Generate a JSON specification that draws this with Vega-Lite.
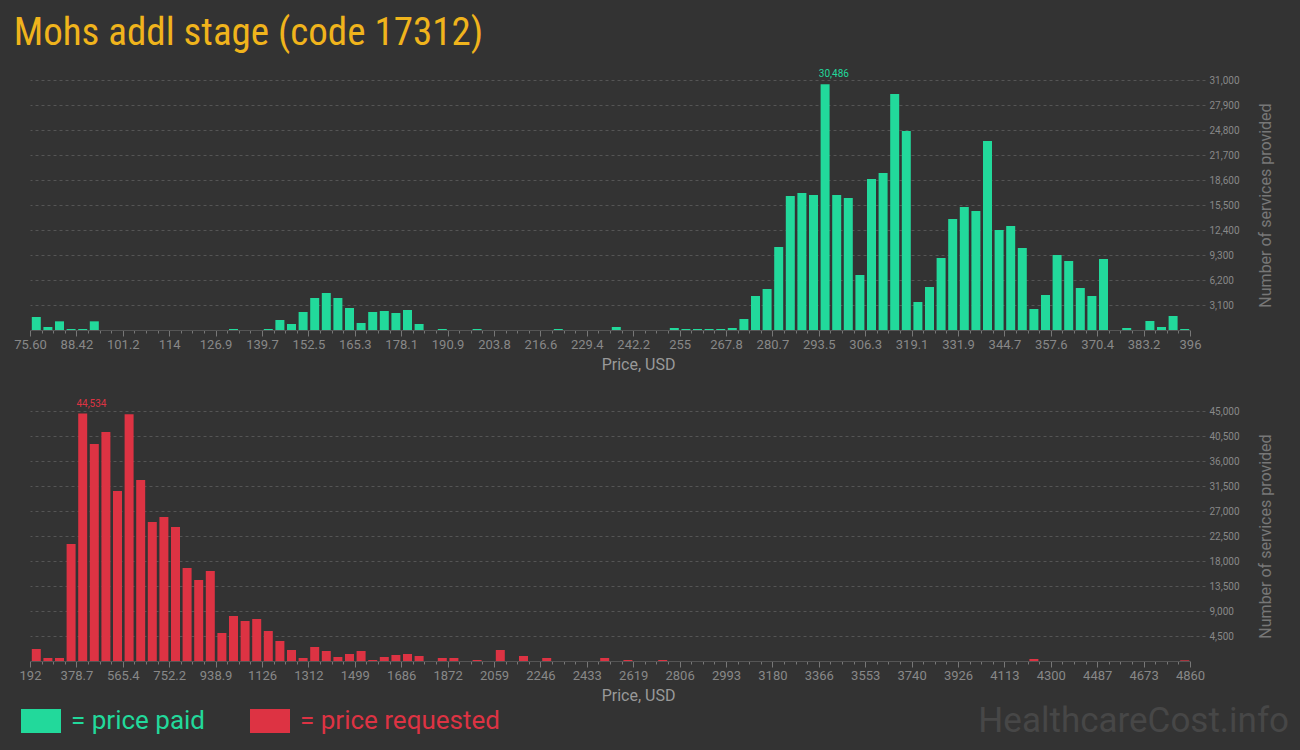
{
  "$schema": "https://vega.github.io/schema/vega-lite/v6.json",
  "background": "#333333",
  "padding": {"left": 13, "top": 14, "right": 28, "bottom": 20},
  "title": {
    "text": "Mohs addl stage (code 17312)",
    "anchor": "start",
    "frame": "bounds",
    "color": "#f0b41c",
    "fontSize": 39,
    "font": "Roboto Condensed, Roboto, sans-serif",
    "fontWeight": "normal",
    "offset": 16
  },
  "config": {
    "view": {"stroke": null},
    "font": "Roboto, sans-serif",
    "axisY": {
      "orient": "right",
      "format": ",d",
      "grid": true,
      "gridDash": [3, 3],
      "gridColor": "#555555",
      "tickDash": [3, 3],
      "tickColor": "#555555",
      "tickSize": 16,
      "tickCount": 40,
      "domain": false,
      "labelColor": "#888888",
      "labelFontSize": 10,
      "labelFont": "Roboto, sans-serif",
      "labelPadding": 3,
      "labelOverlap": false,
      "labelBound": false,
      "titleColor": "#777777",
      "titleFontSize": 16,
      "titleFontWeight": "normal",
      "titleFont": "Roboto, sans-serif",
      "titleAngle": 270,
      "titleBaseline": "top",
      "titlePadding": 18
    },
    "axisX": {
      "grid": false,
      "tickColor": "#777777",
      "domainColor": "#555555",
      "tickCount": 300,
      "labelColor": "#888888",
      "labelFontSize": 13,
      "labelFont": "Roboto, sans-serif",
      "labelPadding": 2,
      "labelOverlap": false,
      "labelFlush": false,
      "titleColor": "#999999",
      "titleFontSize": 16,
      "titleFontWeight": "normal",
      "titleFont": "Roboto, sans-serif",
      "titlePadding": 5,
      "titleX": 608
    },
    "legend": {
      "orient": "none",
      "legendX": -9,
      "legendY": 621,
      "direction": "horizontal",
      "title": null,
      "symbolType": "M-1,-0.6L1,-0.6L1,0.6L-1,0.6Z",
      "symbolSize": 1600,
      "symbolOpacity": 1,
      "symbolStrokeWidth": 0,
      "labelFontSize": 26,
      "labelFont": "Roboto, sans-serif",
      "labelOffset": 10,
      "columnPadding": 44,
      "labelLimit": 400
    }
  },
  "datasets": {
    "paid": [
      {"price": 75.6, "count": 1612},
      {"price": 78.804, "count": 372},
      {"price": 82.008, "count": 1075},
      {"price": 85.212, "count": 124},
      {"price": 88.416, "count": 124},
      {"price": 91.62, "count": 1075},
      {"price": 130.068, "count": 124},
      {"price": 139.68, "count": 124},
      {"price": 142.884, "count": 1240},
      {"price": 146.088, "count": 744},
      {"price": 149.292, "count": 2232},
      {"price": 152.496, "count": 3968},
      {"price": 155.7, "count": 4588},
      {"price": 158.904, "count": 3968},
      {"price": 162.108, "count": 2728},
      {"price": 165.312, "count": 868},
      {"price": 168.516, "count": 2232},
      {"price": 171.72, "count": 2356},
      {"price": 174.924, "count": 2108},
      {"price": 178.128, "count": 2480},
      {"price": 181.332, "count": 744},
      {"price": 187.74, "count": 124},
      {"price": 197.352, "count": 124},
      {"price": 219.78, "count": 124},
      {"price": 235.8, "count": 372},
      {"price": 251.82, "count": 248},
      {"price": 255.024, "count": 124},
      {"price": 258.228, "count": 124},
      {"price": 261.432, "count": 124},
      {"price": 264.636, "count": 124},
      {"price": 267.84, "count": 248},
      {"price": 271.044, "count": 1364},
      {"price": 274.248, "count": 4216},
      {"price": 277.452, "count": 5084},
      {"price": 280.656, "count": 10291},
      {"price": 283.86, "count": 16615},
      {"price": 287.064, "count": 16987},
      {"price": 290.268, "count": 16739},
      {"price": 293.472, "count": 30486},
      {"price": 296.676, "count": 16739},
      {"price": 299.88, "count": 16367},
      {"price": 303.084, "count": 6819},
      {"price": 306.288, "count": 18723},
      {"price": 309.492, "count": 19467},
      {"price": 312.696, "count": 29262},
      {"price": 315.9, "count": 24674},
      {"price": 319.104, "count": 3472},
      {"price": 322.308, "count": 5332},
      {"price": 325.512, "count": 8927},
      {"price": 328.716, "count": 13763},
      {"price": 331.92, "count": 15251},
      {"price": 335.124, "count": 14755},
      {"price": 338.328, "count": 23434},
      {"price": 341.532, "count": 12399},
      {"price": 344.736, "count": 12895},
      {"price": 347.94, "count": 10167},
      {"price": 351.144, "count": 2604},
      {"price": 354.348, "count": 4340},
      {"price": 357.552, "count": 9299},
      {"price": 360.756, "count": 8555},
      {"price": 363.96, "count": 5208},
      {"price": 367.164, "count": 4216},
      {"price": 370.368, "count": 8803},
      {"price": 376.776, "count": 248},
      {"price": 383.184, "count": 1116},
      {"price": 386.388, "count": 372},
      {"price": 389.592, "count": 1736},
      {"price": 392.796, "count": 124}
    ],
    "requested": [
      {"price": 192, "count": 2160},
      {"price": 238.68, "count": 540},
      {"price": 285.36, "count": 540},
      {"price": 332.04, "count": 21060},
      {"price": 378.72, "count": 44534},
      {"price": 425.4, "count": 39060},
      {"price": 472.08, "count": 41220},
      {"price": 518.76, "count": 30600},
      {"price": 565.44, "count": 44400},
      {"price": 612.12, "count": 32580},
      {"price": 658.8, "count": 25020},
      {"price": 705.48, "count": 25920},
      {"price": 752.16, "count": 24120},
      {"price": 798.84, "count": 16740},
      {"price": 845.52, "count": 14580},
      {"price": 892.2, "count": 16200},
      {"price": 938.88, "count": 5040},
      {"price": 985.56, "count": 8100},
      {"price": 1032.24, "count": 7200},
      {"price": 1078.92, "count": 7560},
      {"price": 1125.6, "count": 5400},
      {"price": 1172.28, "count": 3600},
      {"price": 1218.96, "count": 1980},
      {"price": 1265.64, "count": 540},
      {"price": 1312.32, "count": 2520},
      {"price": 1359, "count": 1800},
      {"price": 1405.68, "count": 720},
      {"price": 1452.36, "count": 1260},
      {"price": 1499.04, "count": 1800},
      {"price": 1545.72, "count": 180},
      {"price": 1592.4, "count": 720},
      {"price": 1639.08, "count": 1080},
      {"price": 1685.76, "count": 1260},
      {"price": 1732.44, "count": 900},
      {"price": 1825.8, "count": 540},
      {"price": 1872.48, "count": 540},
      {"price": 1965.84, "count": 180},
      {"price": 2059.2, "count": 1980},
      {"price": 2152.56, "count": 900},
      {"price": 2245.92, "count": 540},
      {"price": 2479.32, "count": 540},
      {"price": 2572.68, "count": 180},
      {"price": 2712.72, "count": 180},
      {"price": 4206.48, "count": 360},
      {"price": 4813.32, "count": 120}
    ]
  },
  "spacing": 26,
  "vconcat": [
    {
      "width": 1160,
      "height": 250,
      "data": {"name": "paid"},
      "layer": [
        {
          "mark": {"type": "bar", "binSpacing": 2.6},
          "encoding": {
            "x": {
              "field": "price",
              "type": "quantitative",
              "bin": {"binned": true, "step": 3.204},
              "scale": {"domain": [75.6, 396], "nice": false, "zero": false},
              "axis": {
                "title": "Price, USD",
                "tickCount": 300,
                "values": [75.6, 78.804, 82.008, 85.212, 88.416, 91.62, 94.824, 98.028, 101.232, 104.436, 107.64, 110.844, 114.048, 117.252, 120.456, 123.66, 126.864, 130.068, 133.272, 136.476, 139.68, 142.884, 146.088, 149.292, 152.496, 155.7, 158.904, 162.108, 165.312, 168.516, 171.72, 174.924, 178.128, 181.332, 184.536, 187.74, 190.944, 194.148, 197.352, 200.556, 203.76, 206.964, 210.168, 213.372, 216.576, 219.78, 222.984, 226.188, 229.392, 232.596, 235.8, 239.004, 242.208, 245.412, 248.616, 251.82, 255.024, 258.228, 261.432, 264.636, 267.84, 271.044, 274.248, 277.452, 280.656, 283.86, 287.064, 290.268, 293.472, 296.676, 299.88, 303.084, 306.288, 309.492, 312.696, 315.9, 319.104, 322.308, 325.512, 328.716, 331.92, 335.124, 338.328, 341.532, 344.736, 347.94, 351.144, 354.348, 357.552, 360.756, 363.96, 367.164, 370.368, 373.572, 376.776, 379.98, 383.184, 386.388, 389.592, 392.796, 396],
                "labelExpr": "round(datum.index * 100) % 4 == 0 ? (datum.value == 75.6 ? '75.60' : format(datum.value, '.4~r')) : ''",
                "tickSize": {"condition": {"test": "round(datum.index * 100) % 4 == 0", "value": 6}, "value": 3}
              }
            },
            "y": {
              "field": "count",
              "type": "quantitative",
              "scale": {"domain": [0, 31000], "nice": false},
              "axis": {
                "title": "Number of services provided",
                "labelOverlap": false,
                "tickCount": 40,
                "values": [3100, 6200, 9300, 12400, 15500, 18600, 21700, 24800, 27900, 31000]
              }
            },
            "color": {
              "datum": "price paid",
              "type": "nominal",
              "scale": {"domain": ["price paid", "price requested"], "range": ["#22d99b", "#dd3343"]},
              "legend": {
                "labelExpr": "'= ' + datum.label",
                "encode": {"labels": {"update": {"fill": {"signal": "datum.value == 'price paid' ? '#22d99b' : '#dd3343'"}}}}
              }
            }
          }
        },
        {
          "transform": [
            {"joinaggregate": [{"op": "max", "field": "count", "as": "mx"}]},
            {"filter": "datum.count == datum.mx"}
          ],
          "mark": {"type": "text", "align": "left", "baseline": "bottom", "dy": -5, "fontSize": 10, "color": "#22d99b"},
          "encoding": {
            "x": {"field": "price", "type": "quantitative"},
            "y": {"field": "count", "type": "quantitative"},
            "text": {"field": "count", "type": "quantitative", "format": ",d"}
          }
        }
      ]
    },
    {
      "width": 1160,
      "height": 250,
      "data": {"name": "requested"},
      "title": {
        "text": "HealthcareCost.info",
        "orient": "bottom",
        "anchor": "end",
        "frame": "bounds",
        "fontSize": 35,
        "fontWeight": "normal",
        "color": "#474747",
        "font": "Roboto, sans-serif",
        "offset": 1,
        "dx": 16
      },
      "layer": [
        {
          "mark": {"type": "bar", "binSpacing": 2.6},
          "encoding": {
            "x": {
              "field": "price",
              "type": "quantitative",
              "bin": {"binned": true, "step": 46.68},
              "scale": {"domain": [192, 4860], "nice": false, "zero": false},
              "axis": {
                "title": "Price, USD",
                "tickCount": 300,
                "values": [192, 238.68, 285.36, 332.04, 378.72, 425.4, 472.08, 518.76, 565.44, 612.12, 658.8, 705.48, 752.16, 798.84, 845.52, 892.2, 938.88, 985.56, 1032.24, 1078.92, 1125.6, 1172.28, 1218.96, 1265.64, 1312.32, 1359, 1405.68, 1452.36, 1499.04, 1545.72, 1592.4, 1639.08, 1685.76, 1732.44, 1779.12, 1825.8, 1872.48, 1919.16, 1965.84, 2012.52, 2059.2, 2105.88, 2152.56, 2199.24, 2245.92, 2292.6, 2339.28, 2385.96, 2432.64, 2479.32, 2526, 2572.68, 2619.36, 2666.04, 2712.72, 2759.4, 2806.08, 2852.76, 2899.44, 2946.12, 2992.8, 3039.48, 3086.16, 3132.84, 3179.52, 3226.2, 3272.88, 3319.56, 3366.24, 3412.92, 3459.6, 3506.28, 3552.96, 3599.64, 3646.32, 3693, 3739.68, 3786.36, 3833.04, 3879.72, 3926.4, 3973.08, 4019.76, 4066.44, 4113.12, 4159.8, 4206.48, 4253.16, 4299.84, 4346.52, 4393.2, 4439.88, 4486.56, 4533.24, 4579.92, 4626.6, 4673.28, 4719.96, 4766.64, 4813.32, 4860],
                "labelExpr": "round(datum.index * 100) % 4 == 0 ? format(datum.value, '.4~r') : ''",
                "tickSize": {"condition": {"test": "round(datum.index * 100) % 4 == 0", "value": 6}, "value": 3}
              }
            },
            "y": {
              "field": "count",
              "type": "quantitative",
              "scale": {"domain": [0, 45000], "nice": false},
              "axis": {
                "title": "Number of services provided",
                "labelOverlap": false,
                "tickCount": 40,
                "values": [4500, 9000, 13500, 18000, 22500, 27000, 31500, 36000, 40500, 45000]
              }
            },
            "color": {
              "datum": "price requested",
              "type": "nominal",
              "scale": {"domain": ["price paid", "price requested"], "range": ["#22d99b", "#dd3343"]}
            }
          }
        },
        {
          "transform": [
            {"joinaggregate": [{"op": "max", "field": "count", "as": "mx"}]},
            {"filter": "datum.count == datum.mx"}
          ],
          "mark": {"type": "text", "align": "left", "baseline": "bottom", "dy": -5, "fontSize": 10, "color": "#dd3343"},
          "encoding": {
            "x": {"field": "price", "type": "quantitative"},
            "y": {"field": "count", "type": "quantitative"},
            "text": {"field": "count", "type": "quantitative", "format": ",d"}
          }
        }
      ]
    }
  ]
}
